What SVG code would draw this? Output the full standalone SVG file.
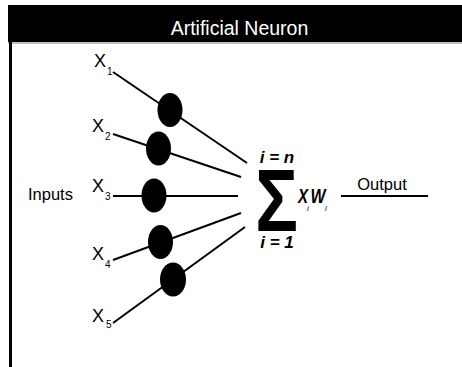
<svg xmlns="http://www.w3.org/2000/svg" width="462" height="367" viewBox="0 0 462 367">
<style>
text{font-family:"Liberation Sans",Arial,sans-serif;fill:#000}
.lbl{font-size:18px}
.sub{font-size:10px}
.w{fill:#000}
.conn line{stroke:#000;stroke-width:2}
.lim{font-size:17px;font-weight:bold;font-style:italic}
.xw{font-size:20px;font-style:italic;font-weight:bold}
.xs{font-size:8px;font-style:italic}
</style>
<rect x="0" y="0" width="462" height="367" fill="#fff"/>
<g id="title">
<rect x="8" y="5" width="454" height="37" fill="#000"/>
<line x1="8" y1="43" x2="462" y2="43" stroke="#aaa" stroke-width="1.5"/>
<line x1="10.5" y1="42" x2="10.5" y2="367" stroke="#000" stroke-width="3"/>
<text x="239.5" y="35" text-anchor="middle" style="font-size:19.5px;fill:#fff">Artificial Neuron</text>
</g>
<g id="connectors" class="conn">
<line x1="113" y1="72" x2="247" y2="163"/>
<line x1="113" y1="134" x2="241" y2="177"/>
<line x1="113" y1="196" x2="238" y2="196"/>
<line x1="113" y1="260" x2="241" y2="213"/>
<line x1="113" y1="323" x2="245" y2="227"/>
<line x1="341" y1="196" x2="428" y2="196"/>
</g>
<g id="inputs-label"><text x="28" y="200" style="font-size:16.5px">Inputs</text></g>
<g id="x1"><text class="lbl" x="94" y="67">X</text><text class="sub" x="107" y="75">1</text></g>
<g id="x2"><text class="lbl" x="92" y="132">X</text><text class="sub" x="105" y="140">2</text></g>
<g id="x3"><text class="lbl" x="92" y="192">X</text><text class="sub" x="105" y="200">3</text></g>
<g id="x4"><text class="lbl" x="92" y="260">X</text><text class="sub" x="105" y="268">4</text></g>
<g id="x5"><text class="lbl" x="92" y="322">X</text><text class="sub" x="106" y="328">5</text></g>
<g id="w1"><ellipse class="w" cx="170" cy="110" rx="12.5" ry="17"/></g>
<g id="w2"><ellipse class="w" cx="158.5" cy="148.5" rx="12.5" ry="17"/></g>
<g id="w3"><ellipse class="w" cx="154" cy="195.5" rx="12.5" ry="17"/></g>
<g id="w4"><ellipse class="w" cx="160.5" cy="242" rx="12.5" ry="17"/></g>
<g id="w5"><ellipse class="w" cx="173" cy="279.5" rx="13" ry="17"/></g>
<g id="sum">
<text class="lim" x="277" y="163" text-anchor="middle">i = n</text>
<text transform="translate(276.5,231) scale(0.8,1)" text-anchor="middle" style="font-size:89px;font-weight:bold">Σ</text>
<text class="lim" x="277" y="248" text-anchor="middle">i = 1</text>
<text class="xw" x="298" y="203" textLength="10" lengthAdjust="spacingAndGlyphs">X</text>
<text class="xs" x="307" y="211">i</text>
<text class="xw" x="310.5" y="203" textLength="15" lengthAdjust="spacingAndGlyphs">W</text>
<text class="xs" x="325" y="211">i</text>
</g>
<g id="output"><text x="382" y="190" text-anchor="middle" style="font-size:16.5px">Output</text></g>
</svg>
